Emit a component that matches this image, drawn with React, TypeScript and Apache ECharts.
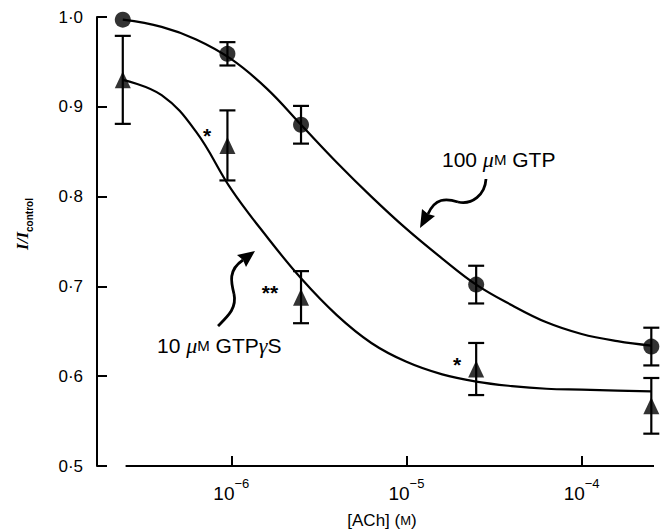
import React, { useEffect, useRef } from 'react';
import * as echarts from 'echarts';

// ---- data ----
const DATA_X = [2.4e-7, 9.5e-7, 2.5e-6, 2.5e-5, 2.5e-4];
const GTP_MEAN = [0.997, 0.959, 0.88, 0.702, 0.633];
const GTP_ERR = [0, 0.013, 0.021, 0.021, 0.021];
const GTPGS_MEAN = [0.93, 0.857, 0.688, 0.608, 0.567];
const GTPGS_ERR = [0.049, 0.039, 0.029, 0.029, 0.031];

const CURVE_X = [2.4e-7, 4e-7, 6.3e-7, 1e-6, 1.6e-6, 2.5e-6, 4e-6, 6.3e-6, 1e-5, 1.6e-5, 2.5e-5, 4e-5, 6.3e-5, 1e-4, 1.6e-4, 2.5e-4];
const GTP_FIT = [0.997, 0.989, 0.975, 0.953, 0.92, 0.88, 0.838, 0.8, 0.764, 0.731, 0.702, 0.679, 0.66, 0.647, 0.639, 0.634];
const GTPGS_FIT = [0.93, 0.913, 0.872, 0.808, 0.755, 0.709, 0.668, 0.637, 0.616, 0.602, 0.594, 0.589, 0.586, 0.585, 0.584, 0.583];

const X_TICKS = [1e-6, 1e-5, 1e-4];
const X_MIN = 1.71e-7;
const X_MAX = 2.59e-4;
const X_LINE_START = 2.49e-7;
const Y_MIN = 0.5;
const Y_MAX = 1.0;
const Y_STEP = 0.1;

const SANS = "'Liberation Sans', Arial, Helvetica, sans-serif";
const SERIF = "'Liberation Serif', 'Times New Roman', serif";

export default function App() {
  const ref = useRef<HTMLDivElement>(null);
  useEffect(() => {
    document.body.style.margin = '0';
    const chart = echarts.init(ref.current!, null, { renderer: 'svg' });

    const errData = (means: number[], errs: number[]) =>
      DATA_X.map((x, i) => [x, means[i] - errs[i], means[i] + errs[i]]).filter((_, i) => errs[i] > 0);

    const renderErr = (params: any, api: any) => {
      const x = api.value(0);
      const top = api.coord([x, api.value(2)]);
      const bot = api.coord([x, api.value(1)]);
      const hw = 8;
      const st = { stroke: '#000', lineWidth: 2.2 };
      return {
        type: 'group',
        children: [
          { type: 'line', shape: { x1: top[0], y1: top[1], x2: bot[0], y2: bot[1] }, style: st },
          { type: 'line', shape: { x1: top[0] - hw, y1: top[1], x2: top[0] + hw, y2: top[1] }, style: st },
          { type: 'line', shape: { x1: bot[0] - hw, y1: bot[1], x2: bot[0] + hw, y2: bot[1] }, style: st },
        ],
      };
    };

    const lineStyle = { color: '#000', width: 2.2 };

    const option: any = {
      animation: false,
      backgroundColor: '#fff',
      grid: { left: 97, right: 13, top: 17, bottom: 65, containLabel: false },
      xAxis: {
        type: 'log',
        logBase: 10,
        min: X_MIN,
        max: X_MAX,
        axisLine: { show: false },
        splitLine: { show: false },
        minorTick: { show: false },
        axisTick: { show: true, inside: true, length: 10, lineStyle: { color: '#000', width: 2 }, customValues: X_TICKS },
        axisLabel: {
          customValues: X_TICKS,
          margin: 11,
          color: '#000',
          fontSize: 19,
          fontFamily: SANS,
          formatter: (v: number) => `{b|10}{s|−${Math.abs(Math.round(Math.log10(v)))}}`,
          rich: {
            b: { fontSize: 19, fontFamily: SANS, color: '#000', lineHeight: 26, verticalAlign: 'bottom' },
            s: { fontSize: 13, fontFamily: SANS, color: '#000', verticalAlign: 'top' },
          },
        },
      },
      yAxis: {
        type: 'value',
        min: Y_MIN,
        max: Y_MAX,
        interval: Y_STEP,
        axisLine: { show: true, lineStyle: { color: '#000', width: 2 } },
        axisTick: { show: true, inside: true, length: 10, lineStyle: { color: '#000', width: 2 } },
        splitLine: { show: false },
        axisLabel: {
          formatter: (v: number) => v.toFixed(1).replace('.', '·'),
          fontSize: 17,
          fontFamily: SANS,
          color: '#000',
          margin: 14,
        },
      },
      series: [
        {
          type: 'line',
          data: CURVE_X.map((x, i) => [x, GTP_FIT[i]]),
          smooth: 0.4,
          symbol: 'none',
          clip: false,
          lineStyle,
          z: 2,
          markLine: {
            silent: true,
            symbol: ['none', 'none'],
            label: { show: false },
            lineStyle: { color: '#000', width: 2, type: 'solid' },
            data: [[{ coord: [X_LINE_START, Y_MIN] }, { coord: [X_MAX, Y_MIN] }]],
          },
        },
        {
          type: 'line',
          data: CURVE_X.map((x, i) => [x, GTPGS_FIT[i]]),
          smooth: 0.4,
          symbol: 'none',
          clip: false,
          lineStyle,
          z: 2,
        },
        {
          type: 'custom',
          data: errData(GTP_MEAN, GTP_ERR),
          renderItem: renderErr,
          encode: { x: 0, y: [1, 2] },
          clip: false,
          z: 3,
        },
        {
          type: 'custom',
          data: errData(GTPGS_MEAN, GTPGS_ERR),
          renderItem: renderErr,
          encode: { x: 0, y: [1, 2] },
          clip: false,
          z: 3,
        },
        {
          type: 'scatter',
          data: DATA_X.map((x, i) => [x, GTP_MEAN[i]]),
          symbol: 'circle',
          symbolSize: 16,
          itemStyle: { color: '#000' },
          clip: false,
          z: 4,
        },
        {
          type: 'scatter',
          data: DATA_X.map((x, i) => [x, GTPGS_MEAN[i]]),
          symbol: 'triangle',
          symbolSize: [16, 17],
          itemStyle: { color: '#000' },
          clip: false,
          z: 4,
        },
      ],
      graphic: [
        {
          type: 'text',
          x: 24,
          y: 224,
          rotation: Math.PI / 2,
          style: {
            text: '{i|I/I}{s|control}',
            align: 'center',
            verticalAlign: 'middle',
            rich: {
              i: { fontSize: 17, fontFamily: SERIF, fontStyle: 'italic', fontWeight: 'bold', fill: '#000', lineHeight: 20, verticalAlign: 'top' },
              s: { fontSize: 10, fontFamily: SANS, fontWeight: 'bold', fill: '#000', verticalAlign: 'bottom' },
            },
          },
        },
        {
          type: 'text',
          x: 382,
          y: 520,
          style: {
            text: '{n|[ACh] (}{sc|M}{n|)}',
            align: 'center',
            verticalAlign: 'middle',
            rich: {
              n: { fontSize: 17, fontFamily: SANS, fill: '#000' },
              sc: { fontSize: 13, fontFamily: SANS, fill: '#000' },
            },
          },
        },
        {
          type: 'text',
          x: 442,
          y: 159,
          style: {
            text: '{n|100 }{mu|μ}{sc|M}{n| GTP}',
            align: 'left',
            verticalAlign: 'middle',
            rich: {
              n: { fontSize: 21, fontFamily: SANS, fill: '#000' },
              mu: { fontSize: 22, fontFamily: SERIF, fontStyle: 'italic', fill: '#000' },
              sc: { fontSize: 15, fontFamily: SANS, fill: '#000' },
            },
          },
        },
        {
          type: 'text',
          x: 157,
          y: 345,
          style: {
            text: '{n|10 }{mu|μ}{sc|M}{n| GTP}{mu|γ}{n|S}',
            align: 'left',
            verticalAlign: 'middle',
            rich: {
              n: { fontSize: 21, fontFamily: SANS, fill: '#000' },
              mu: { fontSize: 22, fontFamily: SERIF, fontStyle: 'italic', fill: '#000' },
              sc: { fontSize: 15, fontFamily: SANS, fill: '#000' },
            },
          },
        },
        { type: 'text', x: 207, y: 135, style: { text: '*', fontSize: 21, fontWeight: 'bold', fontFamily: SANS, fill: '#000', align: 'center', verticalAlign: 'middle' } },
        { type: 'text', x: 270, y: 292, style: { text: '**', fontSize: 21, fontWeight: 'bold', fontFamily: SANS, fill: '#000', align: 'center', verticalAlign: 'middle' } },
        { type: 'text', x: 457, y: 364, style: { text: '*', fontSize: 21, fontWeight: 'bold', fontFamily: SANS, fill: '#000', align: 'center', verticalAlign: 'middle' } },
        // upper curly arrow
        { type: 'bezierCurve', shape: { x1: 486, y1: 179, cpx1: 485, cpy1: 195, cpx2: 472, cpy2: 205, x2: 458, y2: 202 }, style: { stroke: '#000', lineWidth: 2.8, fill: null } },
        { type: 'bezierCurve', shape: { x1: 458, y1: 202, cpx1: 446, cpy1: 198, cpx2: 435, cpy2: 198, x2: 428, y2: 214 }, style: { stroke: '#000', lineWidth: 2.8, fill: null } },
        { type: 'polygon', shape: { points: [[420, 228], [422, 209], [428, 214], [435, 216]] }, style: { fill: '#000' } },
        // lower curly arrow
        { type: 'bezierCurve', shape: { x1: 218, y1: 326, cpx1: 228, cpy1: 316, cpx2: 237, cpy2: 308, x2: 234, y2: 294 }, style: { stroke: '#000', lineWidth: 2.8, fill: null } },
        { type: 'bezierCurve', shape: { x1: 234, y1: 294, cpx1: 231, cpy1: 282, cpx2: 228, cpy2: 270, x2: 243, y2: 260 }, style: { stroke: '#000', lineWidth: 2.8, fill: null } },
        { type: 'polygon', shape: { points: [[255, 251], [237, 255], [243, 260], [246, 267]] }, style: { fill: '#000' } },
      ],
    };

    chart.setOption(option);
    return () => chart.dispose();
  }, []);
  return <div ref={ref} style={{ width: 667, height: 531 }} />;
}
